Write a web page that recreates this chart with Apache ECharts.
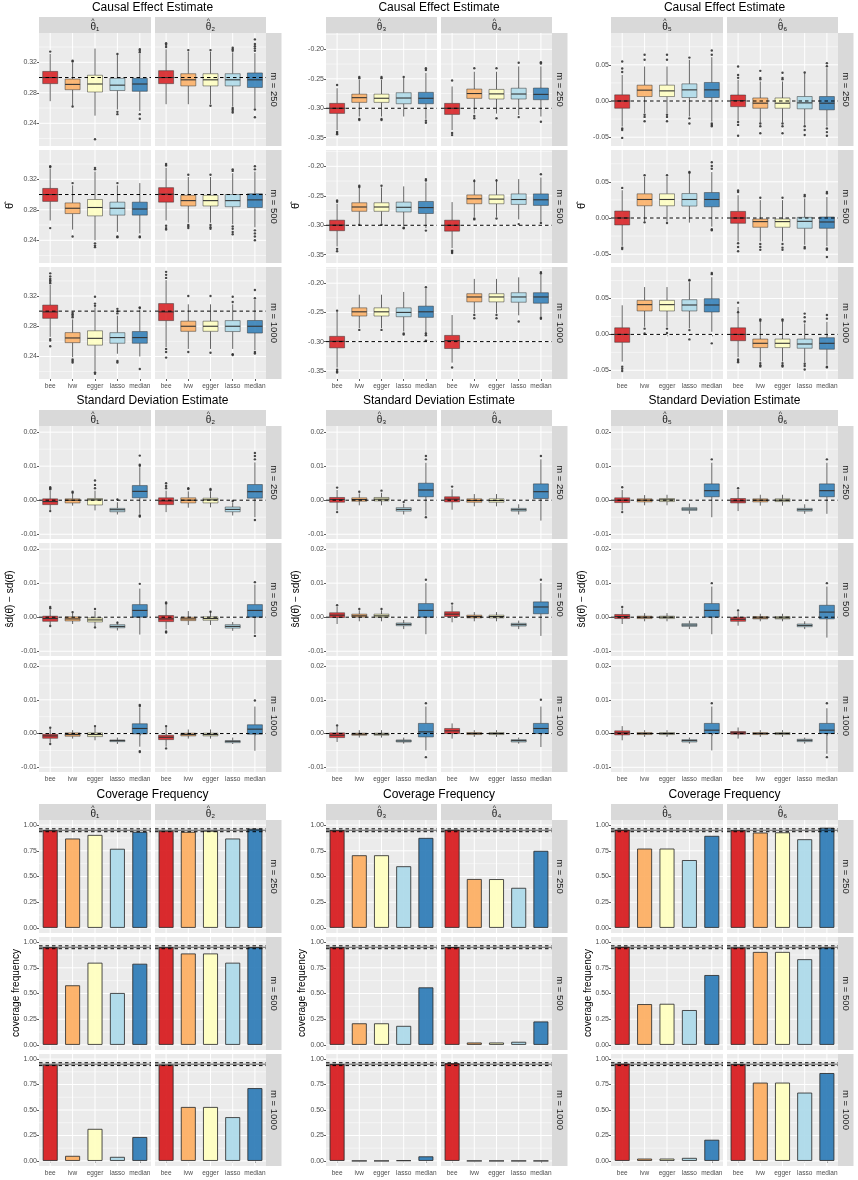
<!DOCTYPE html>
<html>
<head>
<meta charset="utf-8">
<script src="https://cdn.jsdelivr.net/npm/echarts@6/dist/echarts.min.js"></script>
<style>
  html, body { margin: 0; padding: 0; background: #fff; }
  #chart { width: 858px; height: 1180px; }
</style>
</head>
<body>
<div id="chart"></div>
<script>
// ---- data ----
const methods = ['bee', 'ivw', 'egger', 'lasso', 'median'];
const mRows = ['m = 250', 'm = 500', 'm = 1000'];
const thetaSubs = ['\u2081', '\u2082', '\u2083', '\u2084', '\u2085', '\u2086'];
const groupTitles = ['Causal Effect Estimate', 'Standard Deviation Estimate', 'Coverage Frequency'];
const yTitles = ['\u03b8\u0302', 's\u0302d(\u03b8\u0302) \u2212 sd(\u03b8\u0302)', 'coverage frequency'];
const trueValues = [0.3, 0.3, -0.3, -0.3, 0, 0];

// tick labels per column of the estimate plots, and for sd / coverage
const estTicks = [[0.24, 0.28, 0.32], [-0.35, -0.30, -0.25, -0.20], [-0.05, 0.00, 0.05]];
const estMinor = [[0.22, 0.26, 0.30, 0.34], [-0.325, -0.275, -0.225, -0.175], [-0.025, 0.025, 0.075]];
const estRange = [[0.2102, 0.3584], [-0.364, -0.1723], [-0.0622, 0.0940]];
const sdTicks = [-0.01, 0.00, 0.01, 0.02];
const sdMinor = [-0.005, 0.005, 0.015];
const sdRange = [-0.0114, 0.0218];
const covTicks = [0.00, 0.25, 0.50, 0.75, 1.00];
const covMinor = [0.125, 0.375, 0.625, 0.875];
const covRange = [-0.05, 1.05];
const covLines = [0.936, 0.95, 0.964];

// boxplot stats [lower whisker, Q1, median, Q3, upper whisker], rows m=250/500/1000
const est1 = [
  [[0.269, 0.292, 0.300, 0.308, 0.331], [0.263, 0.284, 0.291, 0.298, 0.319], [0.250, 0.281, 0.2915, 0.303, 0.338], [0.258, 0.283, 0.290, 0.299, 0.330], [0.256, 0.282, 0.2915, 0.299, 0.331]],
  [[0.266, 0.291, 0.300, 0.308, 0.334], [0.254, 0.275, 0.282, 0.289, 0.312], [0.240, 0.272, 0.283, 0.2935, 0.330], [0.251, 0.273, 0.282, 0.290, 0.312], [0.249, 0.273, 0.281, 0.290, 0.315]],
  [[0.266, 0.2905, 0.299, 0.308, 0.3347], [0.239, 0.2583, 0.2645, 0.2716, 0.289], [0.221, 0.255, 0.264, 0.274, 0.305], [0.2436, 0.2575, 0.265, 0.2715, 0.294], [0.240, 0.2575, 0.265, 0.273, 0.302]]
];
const estOut1 = [
  [[0.334], [0.321, 0.322, 0.262], [0.219], [0.331, 0.255, 0.252], [0.333, 0.335, 0.337, 0.252, 0.246]],
  [[0.336, 0.337, 0.256], [0.315, 0.245], [0.333, 0.335, 0.236, 0.233, 0.231], [0.315, 0.245, 0.244], [0.245, 0.244]],
  [[0.337, 0.339, 0.341, 0.343, 0.346, 0.350, 0.263, 0.261, 0.2535], [0.292, 0.294, 0.296, 0.298, 0.236, 0.234, 0.232], [0.307, 0.310, 0.319, 0.219, 0.217], [0.297, 0.300, 0.303, 0.234, 0.232], [0.304, 0.305, 0.2235]]
];
const est2 = [
  [[0.265, 0.292, 0.300, 0.309, 0.337], [0.265, 0.289, 0.297, 0.305, 0.334], [0.265, 0.289, 0.297, 0.305, 0.334], [0.262, 0.289, 0.297, 0.305, 0.333], [0.260, 0.287, 0.297, 0.306, 0.332]],
  [[0.266, 0.290, 0.3005, 0.309, 0.335], [0.263, 0.285, 0.292, 0.299, 0.323], [0.263, 0.285, 0.292, 0.299, 0.323], [0.261, 0.284, 0.292, 0.300, 0.328], [0.257, 0.283, 0.293, 0.301, 0.330]],
  [[0.2525, 0.2875, 0.299, 0.310, 0.341], [0.250, 0.2733, 0.280, 0.2867, 0.309], [0.250, 0.2733, 0.280, 0.2867, 0.309], [0.250, 0.273, 0.280, 0.2875, 0.309], [0.2485, 0.271, 0.280, 0.2876, 0.3147]]
];
const estOut2 = [
  [[0.340, 0.343, 0.345], [0.336], [0.336, 0.263], [0.335, 0.337, 0.339, 0.260, 0.258, 0.256, 0.254], [0.335, 0.338, 0.341, 0.344, 0.350, 0.258, 0.248]],
  [[0.338, 0.340, 0.259, 0.256, 0.254], [0.326, 0.260, 0.258, 0.256], [0.326, 0.260, 0.257, 0.255], [0.331, 0.333, 0.258, 0.255, 0.251, 0.248], [0.333, 0.337, 0.253, 0.249, 0.245, 0.240]],
  [[0.344, 0.348, 0.352, 0.250, 0.246, 0.2385], [0.320, 0.246], [0.320, 0.245], [0.312, 0.319, 0.243, 0.242], [0.317, 0.328, 0.246, 0.244]]
];
const est3 = [
  [[-0.337, -0.3087, -0.300, -0.2917, -0.266], [-0.314, -0.290, -0.282, -0.276, -0.252], [-0.314, -0.290, -0.283, -0.276, -0.252], [-0.314, -0.2923, -0.2826, -0.2736, -0.249], [-0.318, -0.2923, -0.283, -0.2730, -0.240]],
  [[-0.336, -0.3092, -0.2997, -0.2914, -0.2635], [-0.297, -0.2763, -0.269, -0.2618, -0.2357], [-0.297, -0.2763, -0.269, -0.2618, -0.2357], [-0.3014, -0.2774, -0.2695, -0.2607, -0.234], [-0.305, -0.280, -0.270, -0.2596, -0.2273]],
  [[-0.3444, -0.3107, -0.2995, -0.291, -0.249], [-0.277, -0.2562, -0.249, -0.2422, -0.2197], [-0.277, -0.2562, -0.249, -0.2422, -0.2197], [-0.2826, -0.2574, -0.250, -0.2422, -0.215], [-0.2854, -0.2585, -0.249, -0.2393, -0.2096]]
];
const estOut3 = [
  [[-0.2606, -0.340, -0.342, -0.344], [-0.249, -0.247, -0.318, -0.320], [-0.249, -0.247, -0.318, -0.320], [-0.247], [-0.235, -0.232, -0.321, -0.3245]],
  [[-0.258, -0.260, -0.340, -0.344], [-0.2329, -0.235, -0.299], [-0.233, -0.299], [-0.304, -0.305], [-0.2217, -0.224, -0.309]],
  [[-0.247, -0.348, -0.351, -0.353], [-0.280], [-0.280], [-0.286, -0.288], [-0.207, -0.286, -0.289, -0.2983]]
];
const est4 = [
  [[-0.337, -0.3104, -0.300, -0.2917, -0.263], [-0.309, -0.2832, -0.275, -0.2674, -0.238], [-0.309, -0.2843, -0.2756, -0.268, -0.238], [-0.3115, -0.2843, -0.2758, -0.266, -0.229], [-0.314, -0.2855, -0.2764, -0.2657, -0.229]],
  [[-0.3387, -0.310, -0.300, -0.2914, -0.2607], [-0.2858, -0.2635, -0.2551, -0.2485, -0.2217], [-0.2858, -0.2635, -0.2556, -0.2485, -0.2217], [-0.290, -0.2646, -0.2563, -0.2468, -0.2217], [-0.294, -0.2663, -0.2568, -0.2468, -0.219]],
  [[-0.336, -0.3118, -0.2983, -0.2894, -0.2545], [-0.2517, -0.232, -0.2236, -0.218, -0.1927], [-0.2517, -0.232, -0.2236, -0.218, -0.1927], [-0.255, -0.2326, -0.2236, -0.2163, -0.190], [-0.2573, -0.2343, -0.2236, -0.2163, -0.1843]]
];
const estOut4 = [
  [[-0.253, -0.342, -0.3455], [-0.232, -0.313, -0.317], [-0.232, -0.317], [-0.2227, -0.315], [-0.222, -0.224, -0.3228]],
  [[-0.343, -0.345, -0.347], [-0.225, -0.2886, -0.290], [-0.224, -0.2886], [-0.298], [-0.2134, -0.296]],
  [[-0.3444], [-0.2545, -0.2601], [-0.2545, -0.2601], [-0.2657], [-0.181, -0.183, -0.259, -0.261]]
];
const est5 = [
  [[-0.0353, -0.010, 0.000, 0.0085, 0.036], [-0.0168, 0.0062, 0.015, 0.0219, 0.0477], [-0.0168, 0.0062, 0.014, 0.0219, 0.0477], [-0.0215, 0.0048, 0.0154, 0.0237, 0.057], [-0.0284, 0.0048, 0.0154, 0.0256, 0.0606]],
  [[-0.0384, -0.0096, 0.000, 0.0096, 0.0384], [-0.005, 0.0169, 0.0256, 0.0334, 0.0567], [-0.005, 0.0169, 0.0256, 0.0334, 0.0567], [-0.0064, 0.0165, 0.0256, 0.0338, 0.0612], [-0.0119, 0.0155, 0.0256, 0.0352, 0.0635]],
  [[-0.038, -0.011, 0.000, 0.0092, 0.0406], [0.0106, 0.0327, 0.0415, 0.0475, 0.066], [0.0106, 0.0327, 0.0415, 0.0475, 0.066], [0.0083, 0.0327, 0.041, 0.0484, 0.0728], [0.0037, 0.0313, 0.041, 0.0498, 0.0798]]
];
const estOut5 = [
  [[0.0546, 0.045, 0.040, -0.038, -0.040, -0.051], [0.064, 0.057, -0.019, -0.022, -0.028], [0.064, 0.057, -0.019, -0.022, -0.028], [0.060, -0.024, -0.031], [0.0698, 0.064, -0.031, -0.033, -0.035]],
  [[0.0416, -0.041, -0.043], [0.059, -0.006], [0.059, -0.007], [0.0625, 0.0635], [0.068, 0.072, 0.077, -0.0155, -0.017]],
  [[-0.045, -0.048, -0.051], [0.008, 0.0014], [0.008, 0.002], [0.075, 0.076, 0.006, -0.007], [0.084, 0.0857, -0.0125]]
];
const est6 = [
  [[-0.027, -0.0078, 0.0005, 0.0083, 0.0293], [-0.0297, -0.010, -0.003, 0.0042, 0.027], [-0.0297, -0.010, -0.003, 0.0042, 0.027], [-0.033, -0.0108, -0.0026, 0.0062, 0.0385], [-0.0353, -0.0122, -0.003, 0.0062, 0.0454]],
  [[-0.0324, -0.0073, 0.000, 0.0091, 0.0315], [-0.0324, -0.0128, -0.005, -0.0014, 0.0247], [-0.0324, -0.0128, -0.005, -0.0014, 0.0247], [-0.037, -0.0142, -0.0046, 0.0009, 0.027], [-0.039, -0.0142, -0.0055, 0.0014, 0.029]],
  [[-0.0318, -0.0088, 0.000, 0.0092, 0.0383], [-0.0378, -0.0184, -0.0124, -0.0065, 0.0175], [-0.0378, -0.0184, -0.0124, -0.0065, 0.0175], [-0.039, -0.0193, -0.0134, -0.0065, 0.0152], [-0.0424, -0.0207, -0.0124, -0.0046, 0.0175]]
];
const estOut6 = [
  [[0.0477, 0.036, 0.032, -0.029, -0.033, -0.048], [0.0417, 0.032, 0.030, -0.031, -0.035, -0.0445], [0.039, 0.032, 0.030, -0.031, -0.035, -0.0445], [0.0395, -0.035, -0.040, -0.047], [0.0523, 0.048, -0.038, -0.043, -0.048]],
  [[0.036, 0.038, -0.035, -0.040, -0.046], [0.028, -0.036, -0.040, -0.044], [0.028, -0.036, -0.041, -0.044], [0.030, 0.032, -0.040, -0.042], [0.034, 0.036, -0.042, -0.044, -0.054]],
  [[0.0443, 0.031, -0.035, -0.037, -0.039], [0.019, 0.021, -0.040, -0.043, -0.0447], [0.019, 0.021, -0.040, -0.043, -0.0447], [0.018, 0.024, 0.029, -0.041, -0.044, -0.049], [0.022, 0.027, -0.045, -0.046]]
];

const sd1 = [
  [[-0.003, -0.0013, -0.0004, 0.0004, 0.0028], [-0.0016, -0.0008, 0.0, 0.0004, 0.0019], [-0.003, -0.0014, 0.0001, 0.0005, 0.0028], [-0.0042, -0.0034, -0.0028, -0.0024, -0.0006], [-0.004, 0.0007, 0.0026, 0.0043, 0.0097]],
  [[-0.0024, -0.0012, -0.0004, 0.0003, 0.0022], [-0.002, -0.0011, -0.0005, 0.0001, 0.0013], [-0.0028, -0.0014, -0.0008, -0.0002, 0.0018], [-0.0039, -0.0031, -0.0027, -0.0022, -0.0013], [-0.0051, 0.0, 0.002, 0.0037, 0.0084]],
  [[-0.0027, -0.0014, -0.0007, -0.0002, 0.0013], [-0.0015, -0.0008, -0.0003, 0.0002, 0.001], [-0.002, -0.0009, -0.0003, 0.0002, 0.002], [-0.0031, -0.0024, -0.0021, -0.0019, -0.0012], [-0.0039, -0.0001, 0.0015, 0.0029, 0.0078]]
];
const sdOut1 = [
  [[0.0032, 0.0035, 0.0038, -0.0032], [0.0022, 0.0025], [0.0035, 0.0045, 0.0058], [0.0002], [0.0101, 0.0104, 0.0131, -0.0045, -0.0048]],
  [[0.0026, 0.003, -0.0026], [0.0015], [0.0024, -0.003], [-0.0016], [0.0098]],
  [[0.0017, -0.0031], [], [0.0022], [], [0.0082, 0.0085, -0.0052, -0.0055]]
];
const sd2 = [
  [[-0.0035, -0.0013, -0.0002, 0.0007, 0.0028], [-0.0022, -0.0008, 0.0, 0.0007, 0.0026], [-0.0021, -0.0008, 0.0001, 0.0006, 0.0026], [-0.0045, -0.0034, -0.0027, -0.002, -0.0006], [-0.005, 0.0006, 0.0025, 0.0046, 0.0111]],
  [[-0.0036, -0.0013, -0.0005, 0.0005, 0.0037], [-0.0023, -0.001, -0.0005, 0.0, 0.0018], [-0.0023, -0.0009, -0.0004, 0.0001, 0.0018], [-0.004, -0.0032, -0.0027, -0.0022, -0.0014], [-0.0049, 0.0, 0.002, 0.0037, 0.0096]],
  [[-0.0039, -0.0018, -0.0011, -0.0005, 0.002], [-0.0015, -0.0007, -0.0003, 0.0001, 0.0012], [-0.0015, -0.0007, -0.0003, 0.0001, 0.0012], [-0.0031, -0.0027, -0.0023, -0.0021, -0.0012], [-0.0051, -0.0002, 0.0013, 0.0026, 0.008]]
];
const sdOut2 = [
  [[0.0035, 0.0042, 0.005], [0.0033, 0.0035], [0.003, 0.0033], [-0.0002], [0.012, 0.013, 0.0139, -0.0058]],
  [[0.004, 0.0043, -0.0042, -0.0045], [], [0.0016], [], [0.0103, -0.0055]],
  [[0.0022, -0.0044], [], [], [], [0.0098]]
];
const sd3 = [
  [[-0.003, -0.0006, 0.0002, 0.0008, 0.003], [-0.0015, -0.0003, 0.0002, 0.0007, 0.002], [-0.0015, -0.0002, 0.0003, 0.0008, 0.0022], [-0.0042, -0.0032, -0.0027, -0.0022, -0.001], [-0.0045, 0.001, 0.003, 0.005, 0.011]],
  [[-0.002, -0.0001, 0.0006, 0.0013, 0.003], [-0.0012, 0.0, 0.0004, 0.0009, 0.002], [-0.0012, 0.0, 0.0004, 0.0009, 0.002], [-0.0035, -0.0025, -0.0021, -0.0017, -0.0008], [-0.005, 0.0, 0.002, 0.004, 0.010]],
  [[-0.0025, -0.0012, -0.0005, 0.0002, 0.002], [-0.0012, -0.0005, -0.0002, 0.0001, 0.001], [-0.0012, -0.0005, -0.0002, 0.0001, 0.001], [-0.003, -0.0025, -0.0022, -0.0019, -0.0012], [-0.005, -0.001, 0.0005, 0.003, 0.008]]
];
const sdOut3 = [
  [[0.0037, -0.0035], [0.0025], [0.0028], [-0.0005], [0.012, 0.013, -0.005]],
  [[0.0035], [0.0024], [0.0024], [], [0.011]],
  [[0.0024], [], [], [], [0.009, -0.007]]
];
const sd4 = [
  [[-0.0028, -0.0005, 0.0003, 0.001, 0.0032], [-0.0018, -0.0006, -0.0001, 0.0004, 0.0018], [-0.0018, -0.0006, -0.0001, 0.0004, 0.0018], [-0.0042, -0.0032, -0.0028, -0.0024, -0.0012], [-0.006, 0.0005, 0.0025, 0.0048, 0.012]],
  [[-0.0015, 0.0002, 0.0009, 0.0016, 0.0035], [-0.0012, -0.0002, 0.0002, 0.0006, 0.0015], [-0.0012, -0.0002, 0.0002, 0.0006, 0.0015], [-0.0035, -0.0026, -0.0022, -0.0018, -0.001], [-0.0055, 0.001, 0.003, 0.0045, 0.010]],
  [[-0.0015, 0.0, 0.0008, 0.0015, 0.003], [-0.001, -0.0003, 0.0, 0.0003, 0.001], [-0.001, -0.0003, 0.0, 0.0003, 0.001], [-0.003, -0.0025, -0.0021, -0.0018, -0.0012], [-0.004, 0.0, 0.0015, 0.003, 0.008]]
];
const sdOut4 = [
  [[0.004], [], [], [], [0.013]],
  [[0.004], [], [], [], [0.011]],
  [[], [], [], [], [0.01]]
];
const sd5 = [
  [[-0.003, -0.0007, 0.0, 0.0007, 0.003], [-0.0015, -0.0005, 0.0, 0.0004, 0.0015], [-0.0015, -0.0004, 0.0001, 0.0005, 0.0016], [-0.004, -0.003, -0.0026, -0.0022, -0.001], [-0.005, 0.001, 0.0028, 0.0048, 0.011]],
  [[-0.002, -0.0004, 0.0002, 0.0008, 0.0025], [-0.0012, -0.0004, 0.0, 0.0003, 0.0012], [-0.0012, -0.0004, 0.0, 0.0003, 0.0012], [-0.0035, -0.0027, -0.0023, -0.0019, -0.001], [-0.005, 0.0, 0.002, 0.004, 0.009]],
  [[-0.002, -0.0004, 0.0002, 0.0008, 0.0022], [-0.001, -0.0003, 0.0, 0.0003, 0.001], [-0.001, -0.0003, 0.0, 0.0003, 0.001], [-0.003, -0.0025, -0.0021, -0.0018, -0.0012], [-0.005, 0.0, 0.001, 0.003, 0.008]]
];
const sdOut5 = [
  [[0.0038, -0.0035], [], [], [], [0.012]],
  [[0.003], [], [], [], [0.010]],
  [[], [], [], [], [0.009]]
];
const sd6 = [
  [[-0.0032, -0.0008, -0.0002, 0.0005, 0.003], [-0.0016, -0.0005, 0.0, 0.0004, 0.0016], [-0.0016, -0.0004, 0.0, 0.0004, 0.0016], [-0.004, -0.0032, -0.0028, -0.0024, -0.0012], [-0.004, 0.001, 0.0028, 0.0048, 0.011]],
  [[-0.0025, -0.0012, -0.0006, 0.0, 0.0015], [-0.0012, -0.0005, -0.0002, 0.0002, 0.001], [-0.0012, -0.0005, -0.0002, 0.0002, 0.001], [-0.0035, -0.0028, -0.0024, -0.002, -0.0012], [-0.006, -0.0005, 0.0015, 0.0035, 0.009]],
  [[-0.0015, -0.0002, 0.0002, 0.0006, 0.0018], [-0.001, -0.0003, 0.0, 0.0003, 0.001], [-0.001, -0.0003, 0.0, 0.0003, 0.001], [-0.003, -0.0024, -0.002, -0.0017, -0.0012], [-0.006, 0.0, 0.001, 0.003, 0.0075]]
];
const sdOut6 = [
  [[0.0035], [], [], [], [0.012]],
  [[0.002], [], [], [], [0.010]],
  [[], [], [], [], [0.009, -0.007]]
];

// coverage frequency, rows m=250/500/1000
const cov1 = [[0.95, 0.87, 0.905, 0.77, 0.935], [0.95, 0.58, 0.80, 0.505, 0.79], [0.945, 0.05, 0.315, 0.04, 0.235]];
const cov2 = [[0.945, 0.935, 0.945, 0.87, 0.965], [0.95, 0.89, 0.89, 0.80, 0.95], [0.945, 0.53, 0.53, 0.43, 0.715]];
const cov3 = [[0.95, 0.707, 0.707, 0.60, 0.876], [0.95, 0.21, 0.21, 0.185, 0.56], [0.95, 0.0, 0.0, 0.005, 0.045]];
const cov4 = [[0.955, 0.476, 0.475, 0.39, 0.75], [0.952, 0.023, 0.023, 0.03, 0.228], [0.96, 0.0, 0.0, 0.0, 0.0]];
const cov5 = [[0.955, 0.772, 0.772, 0.66, 0.896], [0.955, 0.397, 0.40, 0.339, 0.68], [0.955, 0.023, 0.023, 0.03, 0.208]];
const cov6 = [[0.95, 0.928, 0.93, 0.863, 0.975], [0.948, 0.905, 0.905, 0.834, 0.948], [0.95, 0.769, 0.769, 0.671, 0.863]];

const estAll = [est1, est2, est3, est4, est5, est6];
const estOutAll = [estOut1, estOut2, estOut3, estOut4, estOut5, estOut6];
const sdAll = [sd1, sd2, sd3, sd4, sd5, sd6];
const sdOutAll = [sdOut1, sdOut2, sdOut3, sdOut4, sdOut5, sdOut6];
const covAll = [cov1, cov2, cov3, cov4, cov5, cov6];

// ---- layout & style ----
const FONT = 'Liberation Sans, Arial, Helvetica, sans-serif';
const fills = ['#D7191C', '#FDAE61', '#FFFFBF', '#ABD9E9', '#2C7BB6'];
const colX = [[39, 151, 155, 266], [326, 437, 441, 552], [611, 723, 727, 838]];
const groupX = [0, 286, 572];
const rowY = [[33, 146], [150, 263], [267, 379]];
const groupY = [0, 393, 787];

const grids = [], xAxes = [], yAxes = [], series = [], graphics = [];
const fmt2 = v => v.toFixed(2);

function gridLineItem(params, api) {
  const cs = params.coordSys;
  const kind = api.value(0), v = api.value(1);
  if (kind === 2) {
    const x = api.coord([v, 0])[0];
    return { type: 'line', shape: { x1: x, y1: cs.y, x2: x, y2: cs.y + cs.height }, style: { stroke: '#FFFFFF', lineWidth: 1 } };
  }
  const y = api.coord([0, v])[1];
  return { type: 'line', shape: { x1: cs.x, y1: y, x2: cs.x + cs.width, y2: y }, style: { stroke: '#FFFFFF', lineWidth: kind === 0 ? 1 : 0.5 } };
}

function boxItem(params, api) {
  const i = api.value(0);
  const x = api.coord([i, api.value(3)])[0];
  const yy = [1, 2, 3, 4, 5].map(d => api.coord([i, api.value(d)])[1]);
  const hw = 7.5;
  return {
    type: 'group',
    children: [
      { type: 'line', shape: { x1: x, y1: yy[0], x2: x, y2: yy[1] }, style: { stroke: '#555555', lineWidth: 0.9 } },
      { type: 'line', shape: { x1: x, y1: yy[3], x2: x, y2: yy[4] }, style: { stroke: '#555555', lineWidth: 0.9 } },
      { type: 'rect', shape: { x: x - hw, y: yy[3], width: hw * 2, height: yy[1] - yy[3] },
        style: { fill: fills[i], opacity: 0.85, stroke: 'rgba(40,40,40,0.55)', lineWidth: 1 } },
      { type: 'line', shape: { x1: x - hw, y1: yy[2], x2: x + hw, y2: yy[2] }, style: { stroke: '#333333', lineWidth: 1.1 } }
    ]
  };
}

function refLineItem(params, api) {
  const cs = params.coordSys;
  const y = api.coord([0, api.value(1)])[1];
  const dashed = api.value(2) === 1;
  return { type: 'line', shape: { x1: cs.x, y1: y, x2: cs.x + cs.width, y2: y },
    style: { stroke: '#000000', lineWidth: dashed ? 1 : 0.6, lineDash: dashed ? [3.5, 3] : null } };
}

function addPanel(g, c, facet, r, spec) {
  const idx = grids.length;
  const x0 = colX[c][facet * 2], x1 = colX[c][facet * 2 + 1];
  const y0 = groupY[g] + rowY[r][0], y1 = groupY[g] + rowY[r][1];
  grids.push({ left: x0, top: y0, width: x1 - x0, height: y1 - y0, show: true, backgroundColor: '#EBEBEB', borderWidth: 0 });
  const bottom = r === 2, leftP = facet === 0;
  xAxes.push({
    type: 'category', gridIndex: idx, data: methods,
    axisLine: { show: false },
    axisTick: { show: bottom, alignWithLabel: true, length: 2, lineStyle: { color: '#333333', width: 0.8 } },
    axisLabel: { show: bottom, interval: 0, fontSize: 6.5, color: '#4D4D4D', margin: 3.5, fontFamily: FONT },
    splitLine: { show: false }
  });
  yAxes.push({
    type: 'value', gridIndex: idx, min: spec.range[0], max: spec.range[1],
    axisLine: { show: false },
    axisTick: { show: leftP, length: 2, customValues: spec.ticks, lineStyle: { color: '#333333', width: 0.8 } },
    axisLabel: { show: leftP, customValues: spec.ticks, formatter: fmt2, fontSize: 7, color: '#4D4D4D', margin: 2, fontFamily: FONT },
    splitLine: { show: false }
  });
  const lines = [];
  spec.minor.forEach(v => lines.push([1, v]));
  spec.ticks.forEach(v => lines.push([0, v]));
  methods.forEach((m, i) => lines.push([2, i]));
  series.push({ type: 'custom', xAxisIndex: idx, yAxisIndex: idx, z: 1, silent: true, clip: false,
    encode: { x: 0, y: 1 }, data: lines, renderItem: gridLineItem });

  if (spec.boxes) {
    series.push({ type: 'custom', xAxisIndex: idx, yAxisIndex: idx, z: 2, silent: true,
      encode: { x: 0, y: [1, 2, 3, 4, 5] },
      data: spec.boxes.map((b, i) => [i].concat(b)), renderItem: boxItem });
    const pts = [];
    spec.outliers.forEach((list, i) => list.forEach(v => pts.push([i, v])));
    series.push({ type: 'scatter', xAxisIndex: idx, yAxisIndex: idx, z: 3, silent: true,
      symbolSize: 2.4, itemStyle: { color: '#333333', opacity: 0.9 }, data: pts });
  } else {
    series.push({ type: 'bar', xAxisIndex: idx, yAxisIndex: idx, z: 2, silent: true, barWidth: 15,
      data: spec.bars.map((v, i) => ({ value: v, itemStyle: { color: fills[i], opacity: 0.92 } })),
      itemStyle: { borderColor: '#2A2A2A', borderWidth: 0.9 } });
  }
  series.push({ type: 'custom', xAxisIndex: idx, yAxisIndex: idx, z: 4, silent: true, clip: false,
    encode: { x: 0, y: 1 }, data: spec.refs, renderItem: refLineItem });
}

for (let g = 0; g < 3; g++) {
  for (let c = 0; c < 3; c++) {
    for (let r = 0; r < 3; r++) {
      for (let facet = 0; facet < 2; facet++) {
        const t = c * 2 + facet;
        let spec;
        if (g === 0) {
          spec = { range: estRange[c], ticks: estTicks[c], minor: estMinor[c],
            boxes: estAll[t][r], outliers: estOutAll[t][r], refs: [[0, trueValues[t], 1]] };
        } else if (g === 1) {
          spec = { range: sdRange, ticks: sdTicks, minor: sdMinor,
            boxes: sdAll[t][r], outliers: sdOutAll[t][r], refs: [[0, 0, 1]] };
        } else {
          spec = { range: covRange, ticks: covTicks, minor: covMinor,
            bars: covAll[t][r], refs: covLines.map((v, k) => [0, v, k === 1 ? 0 : 1]) };
        }
        addPanel(g, c, facet, r, spec);
      }
    }
    // strips, titles, axis titles
    const gy = groupY[g];
    const px = colX[c];
    graphics.push({ type: 'text', x: (px[0] + px[3]) / 2, y: gy + 8,
      style: { text: groupTitles[g], fontSize: 12, fill: '#000000', align: 'center', verticalAlign: 'middle', fontFamily: FONT } });
    for (let facet = 0; facet < 2; facet++) {
      const x0 = px[facet * 2], x1 = px[facet * 2 + 1];
      const cx = (x0 + x1) / 2;
      graphics.push({ type: 'rect', shape: { x: x0, y: gy + 17, width: x1 - x0, height: 16 }, style: { fill: '#D9D9D9' } });
      graphics.push({ type: 'text', x: cx - 2, y: gy + 21, style: { text: '^', fontSize: 7, fill: '#1A1A1A', align: 'center', verticalAlign: 'middle', fontFamily: FONT } });
      graphics.push({ type: 'text', x: cx, y: gy + 27.5, style: { text: '\u03b8' + thetaSubs[c * 2 + facet], fontSize: 10, fill: '#1A1A1A', align: 'center', verticalAlign: 'middle', fontFamily: FONT } });
    }
    for (let r = 0; r < 3; r++) {
      const y0 = gy + rowY[r][0], y1 = gy + rowY[r][1];
      graphics.push({ type: 'rect', shape: { x: px[3], y: y0, width: 15.5, height: y1 - y0 }, style: { fill: '#D9D9D9' } });
      graphics.push({ type: 'text', x: px[3] + 8, y: (y0 + y1) / 2, rotation: -Math.PI / 2,
        style: { text: mRows[r], fontSize: 9.5, fill: '#1A1A1A', align: 'center', verticalAlign: 'middle', fontFamily: FONT } });
    }
    graphics.push({ type: 'text', x: groupX[c] + (g === 2 ? 16 : 10), y: gy + (rowY[0][0] + rowY[2][1]) / 2, rotation: Math.PI / 2,
      style: { text: yTitles[g], fontSize: g === 0 ? 11 : 10, fill: '#000000', align: 'center', verticalAlign: 'middle', fontFamily: FONT } });
  }
}

const chart = echarts.init(document.getElementById('chart'), null, { renderer: 'canvas' });
chart.setOption({
  animation: false,
  backgroundColor: '#FFFFFF',
  grid: grids,
  xAxis: xAxes,
  yAxis: yAxes,
  series: series,
  graphic: { elements: graphics }
});
</script>
</body>
</html>
